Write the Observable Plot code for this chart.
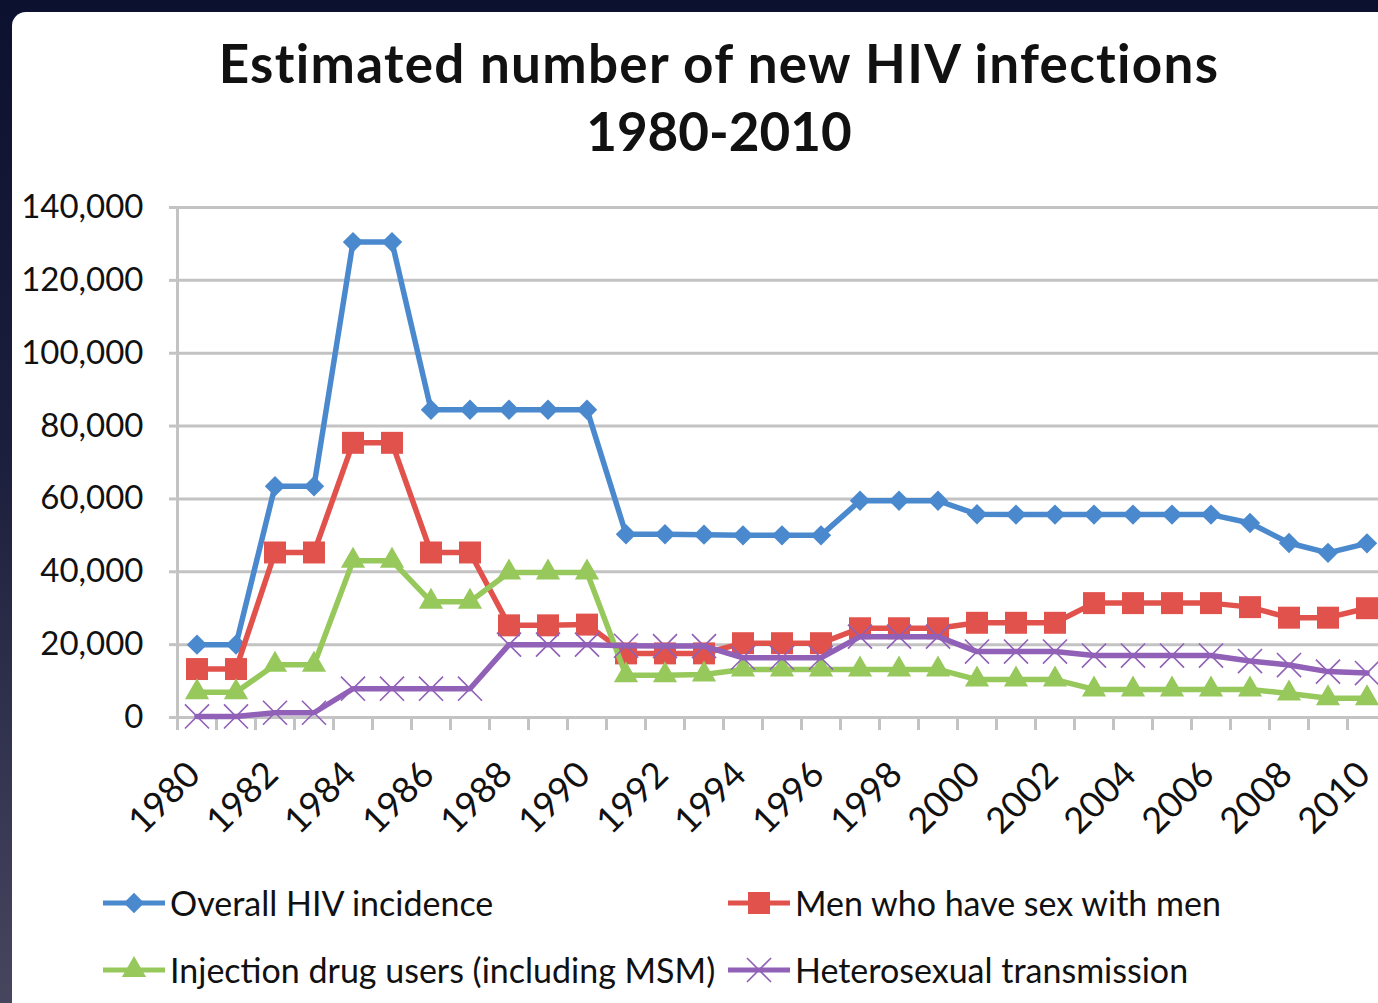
<!DOCTYPE html>
<html>
<head>
<meta charset="utf-8">
<script src="https://cdn.jsdelivr.net/npm/d3@7"></script>
<script src="https://cdn.jsdelivr.net/npm/@observablehq/plot@0.6"></script>
<style>
  html, body { margin: 0; padding: 0; }
  body {
    width: 1378px; height: 1003px; overflow: hidden;
    background: linear-gradient(180deg, #0d1130 0%, #1b1e3c 45%, #47465f 100%);
    font-family: Lato, "Open Sans", sans-serif;
  }
  #panel {
    position: absolute; left: 12px; top: 12px; width: 1366px; height: 991px;
    background: #fff; border-top-left-radius: 14px; overflow: hidden;
  }
  #title {
    position: absolute; left: 0; top: 17px; width: 1414px; text-align: center;
    font-weight: 700; font-size: 53px; line-height: 68px; color: #111;
  }
  #title .main { letter-spacing: 1.3px; }
  #chart { position: absolute; left: 0; top: 158px; }
  #legend {
    position: absolute; left: 91px; top: 857px;
    display: grid; grid-template-columns: 625px auto; grid-auto-rows: 67px;
    font-size: 34px; color: #111;
  }
  .item { display: flex; align-items: center; white-space: nowrap; }
  .item svg { margin-right: 5px; flex: none; }
</style>
</head>
<body>
<div id="panel">
  <div id="title"><span class="main">Estimated number of new HIV infections</span><br>1980-2010</div>
  <div id="chart"></div>
  <div id="legend"></div>
</div>
<script>
// Years on the category axis
const years = [1980, 1981, 1982, 1983, 1984, 1985, 1986, 1987, 1988, 1989, 1990,
               1991, 1992, 1993, 1994, 1995, 1996, 1997, 1998, 1999, 2000,
               2001, 2002, 2003, 2004, 2005, 2006, 2007, 2008, 2009, 2010];

// Estimated new infections per year, by group
const overall = [20000, 20000, 63500, 63500, 130500, 130500, 84500, 84500, 84500, 84500, 84500,
                 50300, 50300, 50200, 50000, 50000, 50000, 59500, 59500, 59500, 55800,
                 55700, 55700, 55700, 55700, 55700, 55700, 53400, 47900, 45200, 47800];
const msm     = [13300, 13300, 45300, 45300, 75400, 75400, 45300, 45300, 25300, 25300, 25500,
                 17600, 17600, 17600, 20400, 20400, 20400, 24500, 24500, 24500, 26000,
                 26000, 26000, 31400, 31400, 31400, 31400, 30300, 27400, 27400, 30000];
const idu     = [6900, 6900, 14500, 14500, 43000, 43000, 31800, 31800, 39800, 39800, 39800,
                 11600, 11600, 11800, 13200, 13200, 13200, 13200, 13200, 13200, 10400,
                 10400, 10400, 7700, 7700, 7700, 7700, 7700, 6600, 5300, 5300];
const hetero  = [300, 300, 1300, 1300, 7900, 7900, 7900, 7900, 20000, 20000, 20000,
                 19700, 19600, 19600, 16400, 16400, 16400, 22200, 22200, 22200, 18100,
                 18100, 18100, 17000, 17000, 17000, 17000, 15500, 14400, 12600, 12200];

// Series names, colours and marker symbols
const seriesNames = ["Overall HIV incidence", "Men who have sex with men",
                     "Injection drug users (including MSM)", "Heterosexual transmission"];
const seriesColors = ["#4a89cd", "#e1524d", "#97c85b", "#9160b7"];
const seriesSymbols = ["diamond2", "square", "triangle", "times"];
const seriesValues = [overall, msm, idu, hetero];

// Axis ticks
const yTicks = [0, 20000, 40000, 60000, 80000, 100000, 120000, 140000];
const yearLabels = [1980, 1982, 1984, 1986, 1988, 1990, 1992, 1994, 1996,
                    1998, 2000, 2002, 2004, 2006, 2008, 2010];

const series = seriesNames.map((name, i) => ({
  name,
  color: seriesColors[i],
  symbol: seriesSymbols[i],
  data: years.map((year, j) => ({year, value: seriesValues[i][j], series: name}))
}));

// category boundaries for the axis tick marks
const boundaries = [...years.map(y => y - 0.5), years[years.length - 1] + 0.5];

const gridColor = "#c3c3c3";
const markerR = {diamond2: 9.2, square: 12.4, triangle: 9.0, times: 11};

const seriesMarks = series.flatMap(s => [
  Plot.line(s.data, {x: "year", y: "value", stroke: s.color, strokeWidth: 5.5,
                     strokeLinejoin: "round", strokeLinecap: "round"}),
  s.symbol === "times"
    ? Plot.dot(s.data, {x: "year", y: "value", symbol: "times", r: markerR.times,
                        stroke: s.color, strokeWidth: 1.6, fill: "none"})
    : Plot.dot(s.data, {x: "year", y: "value", symbol: s.symbol, r: markerR[s.symbol],
                        fill: s.color, stroke: "none"})
]);

const chart = Plot.plot({
  width: 1366,
  height: 690,
  marginLeft: 165,
  marginRight: 0,
  marginTop: 37,
  marginBottom: 143,
  style: {fontFamily: 'Lato, "Open Sans", sans-serif', background: "transparent", color: "#111"},
  x: {domain: [1979.5, 2010.5], range: [165, 1374]},
  y: {domain: [0, 140000]},
  marks: [
    Plot.ruleY(yTicks, {stroke: gridColor, strokeWidth: 3}),
    Plot.axisY({ticks: yTicks, tickSize: 8, tickPadding: 26, tickFormat: d3.format(","),
                fontSize: 33, stroke: gridColor, strokeWidth: 3, fill: "#111", label: null}),
    Plot.ruleX([1979.5], {y1: 0, y2: 140000, stroke: gridColor, strokeWidth: 3}),
    Plot.axisX({ticks: boundaries, tickSize: 13, tickFormat: () => "", stroke: gridColor,
                strokeWidth: 3, label: null}),
    Plot.text(yearLabels, {x: d => d, y: () => 0, text: d => String(d), dx: -3, dy: 51, rotate: -45,
                           textAnchor: "end", lineAnchor: "middle", fontSize: 36, fill: "#111"}),
    ...seriesMarks
  ]
});
document.getElementById("chart").append(chart);

// Legend: line swatch with the series marker, then the name
const legend = d3.select("#legend");
series.forEach(s => {
  const item = legend.append("div").attr("class", "item");
  const svg = item.append("svg").attr("width", 62).attr("height", 30);
  svg.append("line").attr("x1", 0).attr("x2", 62).attr("y1", 15).attr("y2", 15)
    .attr("stroke", s.color).attr("stroke-width", 5);
  const symType = {diamond2: d3.symbolDiamond2, square: d3.symbolSquare,
                   triangle: d3.symbolTriangle, times: d3.symbolTimes}[s.symbol];
  const size = Math.PI * markerR[s.symbol] ** 2;
  const p = svg.append("path").attr("transform", "translate(31,15)")
    .attr("d", d3.symbol(symType, size)());
  if (s.symbol === "times") p.attr("fill", "none").attr("stroke", s.color).attr("stroke-width", 1.6);
  else p.attr("fill", s.color);
  item.append("span").text(s.name);
});
</script>
</body>
</html>
